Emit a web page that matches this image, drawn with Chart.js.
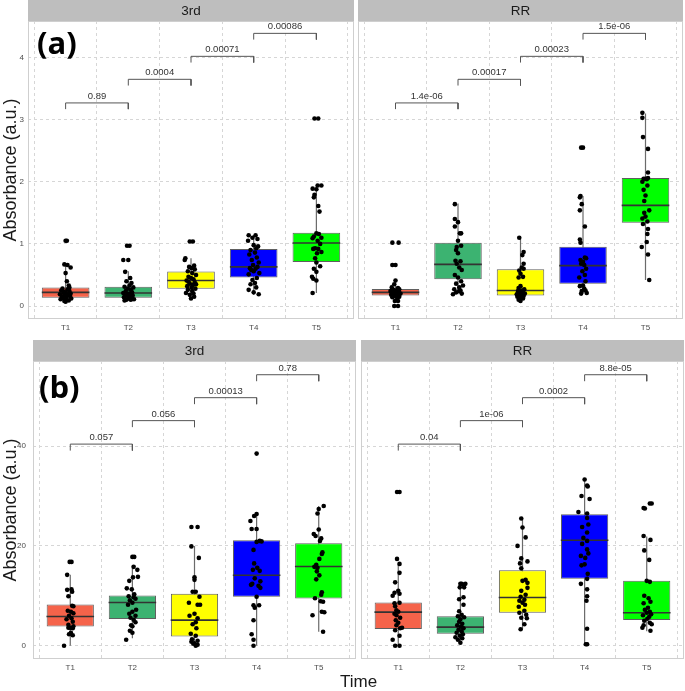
<!DOCTYPE html>
<html>
<head>
<meta charset="utf-8">
<script src="https://cdn.jsdelivr.net/npm/chart.js@4"></script>
<style>
  body { margin: 0; background: #fff; width: 685px; height: 691px; position: relative; overflow: hidden; font-family: "Liberation Sans", Arial, sans-serif; }
  canvas { position: absolute; }
  .tag { position: absolute; font-family: "Open Sans", sans-serif; font-weight: 700; font-size: 31px; line-height: 31px; color: #000; }
  #xtitle { position: absolute; left: 340px; top: 673px; font-size: 17px; line-height: 18px; color: #1a1a1a; }
</style>
</head>
<body>
<canvas id="a3rd" width="354" height="337" style="left:0;top:0"></canvas>
<canvas id="aRR" width="327" height="337" style="left:358px;top:0"></canvas>
<canvas id="b3rd" width="356" height="340" style="left:0;top:340px"></canvas>
<canvas id="bRR" width="324" height="340" style="left:361px;top:340px"></canvas>
<div class="tag" style="left:37px;top:27px">(a)</div>
<div class="tag" style="left:39px;top:371px">(b)</div>
<div id="xtitle">Time</div>
<script>
const categories = ["T1", "T2", "T3", "T4", "T5"];
const boxColors = ["#F5634A", "#3CB371", "#FFFF00", "#0000FF", "#00FF00"];
const ticksTop = [0, 1, 2, 3, 4];
const ticksBottom = [0, 20, 40];

// (a) 3rd : whisker low, q1, median, q3, whisker high
const a3rdLow = [0.07, 0.09, 0.12, 0.18, 0.21];
const a3rdQ1 = [0.135, 0.135, 0.28, 0.46, 0.71];
const a3rdMed = [0.22, 0.21, 0.41, 0.63, 1.015];
const a3rdQ3 = [0.30, 0.31, 0.556, 0.92, 1.18];
const a3rdHigh = [0.66, 0.56, 0.77, 1.14, 1.94];
const a3rdP = ["0.89", "0.0004", "0.00071", "0.00086"];
// jittered points: [offset from category, value]
const a3rdPoints = [
  [[0,1.05],[0.02,1.05],[-0.02,0.67],[0.03,0.66],[0.08,0.62],[0,0.53],[0.02,0.40],[0.05,0.33],[-0.05,0.28],[0.03,0.27],[-0.07,0.25],[0.06,0.24],[0,0.22],[-0.03,0.21],[0.08,0.20],[-0.09,0.19],[0.04,0.18],[-0.01,0.17],[0.07,0.16],[-0.06,0.15],[0.01,0.14],[-0.04,0.13],[0.09,0.12],[-0.08,0.11],[0.02,0.10],[0.05,0.09],[-0.02,0.08],[0,0.07],[0.06,0.30],[-0.03,0.23]],
  [[-0.02,0.97],[0.02,0.97],[-0.08,0.74],[0,0.74],[-0.05,0.55],[0.03,0.45],[-0.03,0.40],[0.05,0.37],[0.02,0.33],[-0.06,0.31],[0.08,0.30],[-0.01,0.28],[0.04,0.26],[-0.04,0.24],[0.06,0.22],[-0.08,0.21],[0.01,0.20],[-0.02,0.18],[0.07,0.17],[-0.05,0.16],[0.03,0.15],[-0.07,0.14],[0.05,0.13],[0,0.12],[0.09,0.11],[-0.03,0.10],[0.04,0.10],[-0.06,0.09],[0.02,0.19],[0.06,0.12]],
  [[-0.02,1.04],[0.03,1.04],[-0.09,0.77],[-0.1,0.74],[0.05,0.65],[-0.03,0.63],[0.01,0.61],[0.06,0.59],[-0.05,0.56],[0.02,0.53],[0.08,0.50],[-0.04,0.47],[0,0.45],[0.04,0.43],[-0.07,0.41],[0.06,0.38],[-0.02,0.36],[0.03,0.34],[-0.06,0.32],[0.01,0.30],[0.07,0.28],[-0.05,0.26],[0.02,0.24],[-0.08,0.21],[0.04,0.20],[-0.02,0.18],[0.05,0.15],[0,0.12],[0.08,0.35],[-0.04,0.39]],
  [[-0.08,1.14],[0.03,1.14],[-0.02,1.10],[0.06,1.08],[-0.09,1.05],[0,0.98],[0.07,0.96],[0.04,0.93],[-0.05,0.90],[0.02,0.86],[-0.07,0.83],[0.05,0.78],[-0.03,0.74],[0.08,0.70],[-0.01,0.66],[0.06,0.63],[-0.06,0.61],[0.03,0.60],[-0.04,0.58],[0,0.56],[0.09,0.53],[-0.08,0.51],[0.05,0.45],[-0.02,0.42],[0.02,0.37],[-0.05,0.35],[0.04,0.30],[-0.08,0.26],[0,0.22],[0.08,0.19]],
  [[-0.03,3.02],[0.03,3.02],[0.02,1.94],[0.08,1.94],[-0.06,1.89],[0,1.88],[-0.03,1.79],[-0.04,1.75],[0.03,1.61],[0.05,1.52],[0,1.17],[0.04,1.16],[-0.04,1.12],[0.08,1.10],[-0.06,1.09],[0.02,1.05],[0.06,1.00],[-0.02,0.93],[0.03,0.92],[-0.05,0.92],[0.08,0.87],[0.01,0.85],[-0.02,0.77],[0,0.70],[0.06,0.64],[-0.04,0.60],[0,0.55],[-0.07,0.47],[-0.05,0.44],[0,0.41],[-0.06,0.21]]
];

// (a) RR
const aRRLow = [0.08, 0.19, 0.08, 0.20, 0.42];
const aRRQ1 = [0.17, 0.43, 0.17, 0.36, 1.34];
const aRRMed = [0.22, 0.67, 0.25, 0.65, 1.62];
const aRRQ3 = [0.275, 1.02, 0.59, 0.955, 2.06];
const aRRHigh = [0.41, 1.65, 1.10, 1.77, 3.10];
const aRRP = ["1.4e-06", "0.00017", "0.00023", "1.5e-06"];
const aRRPoints = [
  [[-0.05,1.02],[0.05,1.02],[-0.05,0.66],[0,0.66],[0,0.41],[-0.02,0.35],[-0.06,0.30],[0.04,0.29],[0.06,0.27],[-0.03,0.26],[0.02,0.25],[-0.08,0.24],[0.05,0.23],[0,0.22],[-0.04,0.21],[0.08,0.20],[0.03,0.19],[-0.07,0.18],[0.01,0.17],[-0.02,0.16],[0.06,0.15],[-0.05,0.14],[0.03,0.12],[-0.01,0.08],[0.04,0.08],[-0.02,0.0],[0.04,0.0]],
  [[-0.05,1.64],[-0.05,1.40],[-0.05,1.28],[0,1.35],[0.03,1.17],[0.05,1.17],[0,1.05],[0.05,0.97],[-0.02,0.95],[-0.03,0.90],[0,0.85],[-0.04,0.73],[0.04,0.72],[-0.02,0.68],[0.02,0.62],[0.06,0.58],[-0.05,0.50],[0,0.46],[0.05,0.40],[-0.03,0.36],[0.08,0.33],[0.02,0.30],[-0.06,0.27],[0.04,0.25],[-0.03,0.22],[0.06,0.20],[-0.08,0.19],[0.02,0.24]],
  [[-0.02,1.10],[0.05,0.87],[0.03,0.82],[0.05,0.68],[0.02,0.62],[0.05,0.60],[-0.02,0.57],[0,0.52],[0.04,0.47],[-0.03,0.46],[0,0.32],[-0.03,0.29],[0.06,0.27],[0.02,0.25],[-0.04,0.24],[0.04,0.22],[-0.01,0.21],[0.07,0.20],[-0.06,0.19],[0.03,0.18],[-0.02,0.17],[0.05,0.16],[-0.05,0.15],[0.01,0.13],[0.04,0.12],[-0.03,0.10],[0,0.08]],
  [[-0.03,2.55],[0,2.55],[-0.04,1.77],[-0.05,1.75],[-0.02,1.64],[-0.05,1.54],[0.03,1.28],[-0.05,1.07],[-0.04,1.02],[0.03,0.78],[0.05,0.77],[-0.04,0.74],[0,0.71],[-0.03,0.68],[0.02,0.66],[0.05,0.60],[-0.01,0.56],[0.03,0.50],[-0.06,0.46],[0.04,0.40],[0,0.33],[-0.05,0.32],[0.02,0.28],[0.04,0.25],[-0.02,0.24],[0.06,0.21],[-0.03,0.20]],
  [[-0.05,3.11],[-0.05,3.03],[-0.04,2.72],[0.04,2.53],[0.04,2.15],[0.04,2.06],[-0.03,2.05],[0,2.05],[0.02,2.04],[-0.05,2.00],[0.03,1.94],[-0.03,1.87],[0,1.78],[-0.02,1.69],[0.06,1.54],[-0.02,1.50],[0,1.44],[-0.05,1.41],[0.03,1.36],[-0.04,1.32],[0.04,1.24],[0.03,1.16],[0.02,1.03],[-0.06,0.95],[0.04,0.83],[0.06,0.42]]
];

// (b) 3rd
const b3rdLow = [0.0, 1.5, 0.0, 0.0, 2.8];
const b3rdQ1 = [3.87, 5.33, 1.87, 9.8, 9.47];
const b3rdMed = [5.87, 8.67, 5.13, 14.13, 15.87];
const b3rdQ3 = [8.27, 10.07, 10.4, 21.13, 20.53];
const b3rdHigh = [14.2, 16.0, 20.0, 26.5, 28.0];
const b3rdP = ["0.057", "0.056", "0.00013", "0.78"];
const b3rdPoints = [
  [[-0.01,16.8],[0.02,16.8],[-0.05,14.2],[-0.05,11.2],[0.02,11.3],[0.03,10.8],[-0.03,9.9],[0.03,8.0],[0.05,7.9],[-0.04,7.0],[0.01,6.8],[0.05,6.5],[-0.02,6.0],[0.02,5.5],[-0.06,5.3],[0.04,4.8],[-0.03,4.2],[0.05,3.9],[0,3.6],[-0.03,3.6],[0.04,3.5],[0.01,2.6],[-0.02,2.3],[0.04,2.1],[-0.1,0.0]],
  [[0,17.8],[0.03,17.8],[0.02,15.8],[0.08,15.2],[0.01,13.7],[0.09,13.8],[-0.05,13.0],[-0.01,11.3],[-0.09,11.5],[0.03,10.3],[-0.06,9.9],[0.02,9.7],[0.05,9.4],[-0.04,9.1],[0,8.6],[-0.07,8.2],[0.06,7.2],[0,6.8],[-0.05,6.4],[0.05,6.0],[-0.03,5.6],[0.02,5.2],[0.05,4.7],[-0.02,4.1],[0,3.9],[-0.04,3.0],[0,2.6],[-0.1,1.2]],
  [[-0.05,23.8],[0.05,23.8],[-0.05,19.9],[0.07,17.6],[0,13.7],[0,13.2],[-0.03,10.8],[0.02,10.8],[0.08,9.8],[-0.09,8.6],[0.05,8.2],[0.09,8.2],[0,6.4],[-0.08,6.0],[0.05,5.5],[0.02,4.7],[-0.03,4.3],[0.03,3.5],[-0.06,2.4],[0.02,2.0],[-0.04,1.3],[0.05,1.0],[-0.05,0.8],[0,0.5],[0.05,0.2],[-0.02,0.4],[0.02,0.0]],
  [[0,38.5],[0,26.4],[-0.04,26.0],[-0.1,25.0],[0,23.4],[-0.08,23.4],[0.05,21.0],[0,20.8],[0.08,20.9],[-0.05,19.2],[-0.04,16.5],[0.01,15.6],[-0.06,15.2],[0.05,15.0],[-0.03,13.5],[0.06,12.9],[-0.07,12.4],[0.03,12.0],[0.06,11.6],[-0.09,12.2],[0,9.8],[0.04,8.1],[-0.05,8.1],[-0.03,7.6],[-0.05,5.1],[-0.08,2.3],[-0.05,1.2],[-0.05,0.0]],
  [[0.08,28.0],[0,27.4],[-0.02,26.5],[0,23.3],[-0.08,22.4],[-0.05,22.0],[0.04,21.5],[0.02,21.0],[0.06,18.7],[0.05,18.4],[0.01,17.4],[-0.04,16.2],[-0.07,15.8],[-0.02,15.6],[-0.03,14.9],[0.01,14.1],[-0.04,13.3],[0.05,10.7],[0.04,10.2],[-0.06,9.5],[0.03,8.9],[0.07,8.8],[0.05,6.8],[0.09,6.7],[-0.1,6.1],[0.07,2.8]]
];

// (b) RR
const bRRLow = [0.0, 0.5, 3.3, 0.5, 2.9];
const bRRQ1 = [3.33, 2.4, 6.6, 13.4, 5.13];
const bRRMed = [6.73, 3.73, 9.67, 21.13, 6.6];
const bRRQ3 = [8.67, 5.93, 15.13, 26.33, 13.0];
const bRRHigh = [16.3, 12.5, 25.5, 33.3, 21.9];
const bRRP = ["0.04", "1e-06", "0.0002", "8.8e-05"];
const bRRPoints = [
  [[-0.02,30.8],[0.02,30.8],[-0.02,17.4],[0.02,16.4],[0.02,14.6],[-0.05,12.7],[0,11.0],[-0.06,10.6],[0.02,10.4],[-0.09,10.0],[-0.06,8.5],[0.02,8.6],[-0.05,7.9],[-0.03,7.1],[0,6.8],[-0.06,6.4],[-0.03,6.1],[0.03,5.6],[-0.04,5.1],[0,4.6],[-0.03,4.1],[0.06,3.6],[-0.05,3.1],[0.03,3.5],[-0.09,1.2],[0.02,2.0],[-0.05,0.0],[0.02,0.0]],
  [[0,12.4],[0.02,12.4],[0.05,12.2],[0.08,12.4],[-0.01,11.7],[0.06,11.7],[0.05,9.7],[-0.02,9.3],[0.05,8.2],[-0.02,6.9],[0.02,6.2],[-0.04,5.9],[0.06,5.7],[0,5.3],[-0.02,4.8],[0.03,4.4],[-0.05,4.1],[0.01,3.8],[0.05,3.5],[-0.03,3.2],[0.02,2.9],[-0.06,2.6],[0.04,2.3],[-0.01,2.0],[-0.08,1.7],[0.03,1.5],[-0.04,1.2],[0,0.6]],
  [[-0.02,25.5],[0,23.7],[0.05,21.7],[-0.08,20.0],[-0.02,17.5],[0.08,16.9],[-0.04,16.5],[-0.02,15.5],[0.05,13.2],[0,13.0],[0.08,12.6],[0.08,11.6],[-0.02,11.0],[0.05,10.2],[-0.03,9.8],[0.03,9.2],[-0.05,9.0],[0,8.6],[0.04,8.2],[-0.06,7.8],[0.03,7.0],[-0.05,6.6],[0.06,6.2],[-0.02,5.6],[0.07,5.5],[0.03,4.3],[-0.03,3.3]],
  [[0,33.3],[0.04,32.1],[0.05,31.9],[-0.05,30.0],[0.08,29.4],[-0.1,26.8],[0.04,26.5],[0.04,25.6],[0.06,24.3],[-0.04,23.8],[0.04,22.7],[-0.02,21.6],[0.04,21.0],[-0.04,20.4],[0.04,19.3],[0.06,18.5],[-0.06,18.0],[0.01,17.6],[0,16.3],[-0.05,16.1],[0.05,14.4],[0.04,13.4],[-0.06,12.4],[0.04,11.3],[0.04,9.9],[0.03,9.0],[0.04,3.4],[0.02,0.3],[0.04,0.3]],
  [[0.05,28.5],[0.08,28.5],[-0.05,27.6],[-0.03,27.5],[-0.05,22.0],[0.06,21.2],[-0.04,19.1],[0.04,17.2],[0,13.0],[0.05,12.8],[-0.04,10.0],[0.03,9.5],[0.06,8.8],[-0.05,8.5],[0.02,7.6],[-0.03,7.2],[0.05,6.8],[0,6.6],[0.07,6.3],[-0.06,6.1],[0.04,5.8],[0.01,5.4],[-0.04,5.0],[0.05,4.6],[0.08,4.3],[-0.05,4.1],[-0.07,3.6],[0.06,3.0]]
];

// comparison bracket heights (T1-T2, T2-T3, T3-T4, T4-T5)
const bracketTop = [3.27, 3.65, 4.02, 4.39];
const bracketBottom = [40.4, 45.1, 49.7, 54.3];

Chart.defaults.font.family = "'Liberation Sans', Arial, sans-serif";
Chart.defaults.animation = false;

// strip header, panel border, p-value labels
const decor = {
  id: "decor",
  afterDraw(chart, args, opts) {
    const ctx = chart.ctx;
    const a = chart.chartArea;
    ctx.save();
    ctx.fillStyle = "#BEBEBE";
    ctx.fillRect(a.left, a.top - 21, a.right - a.left, 21);
    ctx.fillStyle = "#1a1a1a";
    ctx.font = "13.5px 'Liberation Sans', Arial, sans-serif";
    ctx.textAlign = "center";
    ctx.textBaseline = "middle";
    ctx.fillText(opts.strip, (a.left + a.right) / 2, a.top - 10);
    ctx.strokeStyle = "#cfcfcf";
    ctx.lineWidth = 1;
    ctx.strokeRect(a.left + 0.5, a.top + 0.5, a.right - a.left - 1, a.bottom - a.top - 1);
    ctx.fillStyle = "#333";
    ctx.font = "9.5px 'Liberation Sans', Arial, sans-serif";
    ctx.textBaseline = "bottom";
    const x = chart.scales.x, y = chart.scales.y;
    opts.pvals.forEach((p, j) => {
      ctx.fillText(p, x.getPixelForValue(j + 1.5), y.getPixelForValue(opts.heights[j]) - 2);
    });
    ctx.restore();
  }
};

function panel(id, cfg) {
  const whiskers = [], boxes = [], medians = [], points = [], brackets = [];
  categories.forEach((c, i) => {
    whiskers.push({x: i + 1, y: cfg.low[i]}, {x: i + 1, y: cfg.high[i]}, {x: i + 1, y: null});
    boxes.push({x: i + 1, y: [cfg.q1[i], cfg.q3[i]]});
    medians.push({x: i + 1, y: cfg.med[i]});
    cfg.points[i].forEach(p => points.push({x: i + 1 + p[0], y: p[1]}));
  });
  cfg.heights.forEach((h, j) => {
    brackets.push({x: j + 1, y: h - cfg.drop}, {x: j + 1, y: h}, {x: j + 2, y: h}, {x: j + 2, y: h - cfg.drop}, {x: j + 2, y: null});
  });

  new Chart(document.getElementById(id), {
    type: "bar",
    data: {
      datasets: [
        {type: "line", data: whiskers, borderColor: "#6b6b6b", borderWidth: 1.2, pointRadius: 0, spanGaps: false, order: 6},
        {type: "bar", data: boxes, backgroundColor: boxColors, borderColor: "#5f5f5f", borderWidth: 1,
         borderSkipped: false, barPercentage: 0.76, categoryPercentage: 1, order: 5},
        {type: "scatter", data: medians, pointStyle: "line", pointRadius: 23.8, borderColor: "#333", borderWidth: 1.6, order: 4},
        {type: "scatter", data: points, pointRadius: 2.3, backgroundColor: "#000", borderWidth: 0, order: 2},
        {type: "line", data: brackets, borderColor: "#555", borderWidth: 1, pointRadius: 0, spanGaps: false, order: 1}
      ]
    },
    options: {
      responsive: false,
      events: [],
      layout: {autoPadding: false, padding: {top: 21, right: cfg.padRight, left: 0, bottom: 0}},
      plugins: {
        legend: {display: false},
        tooltip: {enabled: false},
        decor: {strip: cfg.strip, pvals: cfg.pvals, heights: cfg.heights}
      },
      scales: {
        x: {
          type: "linear", min: 0.4, max: 5.6, offset: false,
          afterBuildTicks: s => { s.ticks = categories.map((c, i) => ({value: i + 1})); },
          afterFit: s => { s.height = cfg.xHeight; },
          ticks: {callback: v => categories[v - 1], color: "#4d4d4d", font: {size: 8}, padding: 4, maxRotation: 0},
          grid: {color: "#d6d6d6", lineWidth: 1, drawTicks: false},
          border: {display: false, dash: [3, 3]}
        },
        y: {
          min: cfg.yMin, max: cfg.yMax,
          afterBuildTicks: s => { s.ticks = cfg.yTicks.map(v => ({value: v})); },
          afterFit: s => { s.width = cfg.yWidth; },
          ticks: {display: cfg.showY, color: "#4d4d4d", font: {size: 8}, padding: cfg.yPad},
          title: {display: cfg.showY, text: "Absorbance (a.u.)", color: "#1a1a1a", font: {size: 18}, padding: {top: 0, bottom: 0}},
          grid: {color: "#d6d6d6", lineWidth: 1, drawTicks: false},
          border: {display: false, dash: [3, 3]}
        }
      }
    },
    plugins: [decor]
  });
}

panel("a3rd", {strip: "3rd", low: a3rdLow, q1: a3rdQ1, med: a3rdMed, q3: a3rdQ3, high: a3rdHigh, points: a3rdPoints,
  pvals: a3rdP, heights: bracketTop, drop: 0.1, yMin: -0.209, yMax: 4.589, yTicks: ticksTop,
  showY: true, yWidth: 28, yPad: 4, padRight: 0, xHeight: 18});
panel("aRR", {strip: "RR", low: aRRLow, q1: aRRQ1, med: aRRMed, q3: aRRQ3, high: aRRHigh, points: aRRPoints,
  pvals: aRRP, heights: bracketTop, drop: 0.1, yMin: -0.209, yMax: 4.589, yTicks: ticksTop,
  showY: false, yWidth: 0, yPad: 0, padRight: 2, xHeight: 18});
panel("b3rd", {strip: "3rd", low: b3rdLow, q1: b3rdQ1, med: b3rdMed, q3: b3rdQ3, high: b3rdHigh, points: b3rdPoints,
  pvals: b3rdP, heights: bracketBottom, drop: 1.3, yMin: -2.66, yMax: 57.05, yTicks: ticksBottom,
  showY: true, yWidth: 33, yPad: 7, padRight: 0, xHeight: 21});
panel("bRR", {strip: "RR", low: bRRLow, q1: bRRQ1, med: bRRMed, q3: bRRQ3, high: bRRHigh, points: bRRPoints,
  pvals: bRRP, heights: bracketBottom, drop: 1.3, yMin: -2.66, yMax: 57.05, yTicks: ticksBottom,
  showY: false, yWidth: 0, yPad: 0, padRight: 1, xHeight: 21});
</script>
</body>
</html>
